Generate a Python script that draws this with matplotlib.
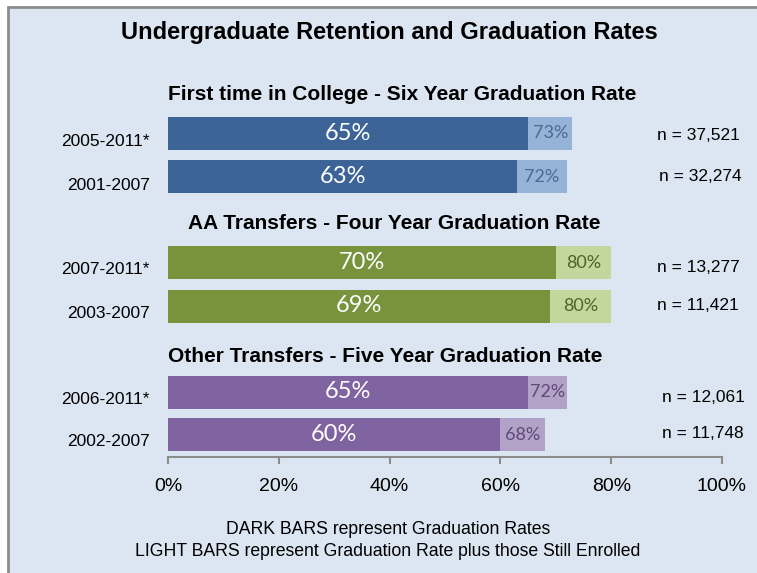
import matplotlib.pyplot as plt
from matplotlib.patches import Rectangle

W, H = 757, 573

# data
title = "Undergraduate Retention and Graduation Rates"
groups = ["First time in College - Six Year Graduation Rate",
          "AA Transfers - Four Year Graduation Rate",
          "Other Transfers - Five Year Graduation Rate"]
cohorts = ["2005-2011*", "2001-2007", "2007-2011*", "2003-2007", "2006-2011*", "2002-2007"]
grad_rate = [65, 63, 70, 69, 65, 60]
grad_plus_enrolled = [73, 72, 80, 80, 72, 68]
n_students = ["37,521", "32,274", "13,277", "11,421", "12,061", "11,748"]
xticks = [0, 20, 40, 60, 80, 100]

# layout (pixel positions in the 757x573 picture)
bar_y = [133.5, 176.5, 262.5, 306, 392, 434.5]
bar_h = 33
group_xy = [(402, 95), (394, 223), (385, 356)]
cohort_y = [141, 185, 269, 313, 399, 442]
n_y = [136, 177, 268, 305, 397, 433]
n_x = [657, 659, 657, 657, 662, 662]

dark = ["#3C6496", "#3C6496", "#77933C", "#77933C", "#8064A2", "#8064A2"]
light = ["#95B3D7", "#95B3D7", "#C3D69B", "#C3D69B", "#B3A2C7", "#B3A2C7"]
light_txt = ["#4A6A94", "#4A6A94", "#4F6228", "#4F6228", "#5F497A", "#5F497A"]


def fx(x):
    return x / W


def fy(y):
    return 1 - y / H


fig = plt.figure(figsize=(W / 100, H / 100), dpi=100)
fig.patch.set_facecolor("white")
fig.patches.append(Rectangle((fx(8), -0.1), 1.2, 1.1 - 7 / H, transform=fig.transFigure,
                             facecolor="#DCE6F2", edgecolor="#8C8C8C", lw=2, zorder=-10))

ax = fig.add_axes([fx(168), fy(457), (722 - 168) / W, (457 - 105) / H])
ax.patch.set_alpha(0)
ax.set_xlim(0, 100)
ax.set_ylim(457, 105)

ax.barh(bar_y, grad_plus_enrolled, height=bar_h, color=light, zorder=2)
ax.barh(bar_y, grad_rate, height=bar_h, color=dark, zorder=3)

for i in range(len(cohorts)):
    g, t = grad_rate[i], grad_plus_enrolled[i]
    ax.text(g / 2, bar_y[i], f"{g}%", ha="center", va="center", color="white",
            fontsize=17, family=["Lato", "DejaVu Sans"], zorder=4)
    ax.text((g + t) / 2, bar_y[i], f"{t}%", ha="center", va="center", color=light_txt[i],
            fontsize=13, family=["Lato", "DejaVu Sans"], zorder=4)
    fig.text(fx(150), fy(cohort_y[i]), cohorts[i], ha="right", va="center",
             fontsize=12.5, family="Liberation Sans")
    fig.text(fx(n_x[i]), fy(n_y[i]), "n = " + n_students[i], ha="left", va="center",
             fontsize=12.5, family="Liberation Sans")

for spine in ["top", "right", "left"]:
    ax.spines[spine].set_visible(False)
ax.spines["bottom"].set_color("#8C8C8C")
ax.spines["bottom"].set_linewidth(1.5)
ax.set_yticks([])
ax.set_xticks(xticks)
ax.set_xticklabels([f"{v}%" for v in xticks], family="Liberation Sans", fontsize=14)
ax.tick_params(axis="x", length=5, width=1.5, color="#8C8C8C", pad=10)

fig.text(fx(389), fy(33), title, ha="center", va="center", fontsize=17,
         fontweight="bold", family="Liberation Sans")
for (gx, gy), g in zip(group_xy, groups):
    fig.text(fx(gx), fy(gy), g, ha="center", va="center", fontsize=15,
             fontweight="bold", family="Liberation Sans")

fig.text(fx(388), fy(530), "DARK BARS represent Graduation Rates", ha="center", va="center",
         fontsize=12.7, family="Liberation Sans")
fig.text(fx(388), fy(552), "LIGHT BARS represent Graduation Rate plus those Still Enrolled",
         ha="center", va="center", fontsize=12.7, family="Liberation Sans")

fig.savefig("out.png", dpi=100)
